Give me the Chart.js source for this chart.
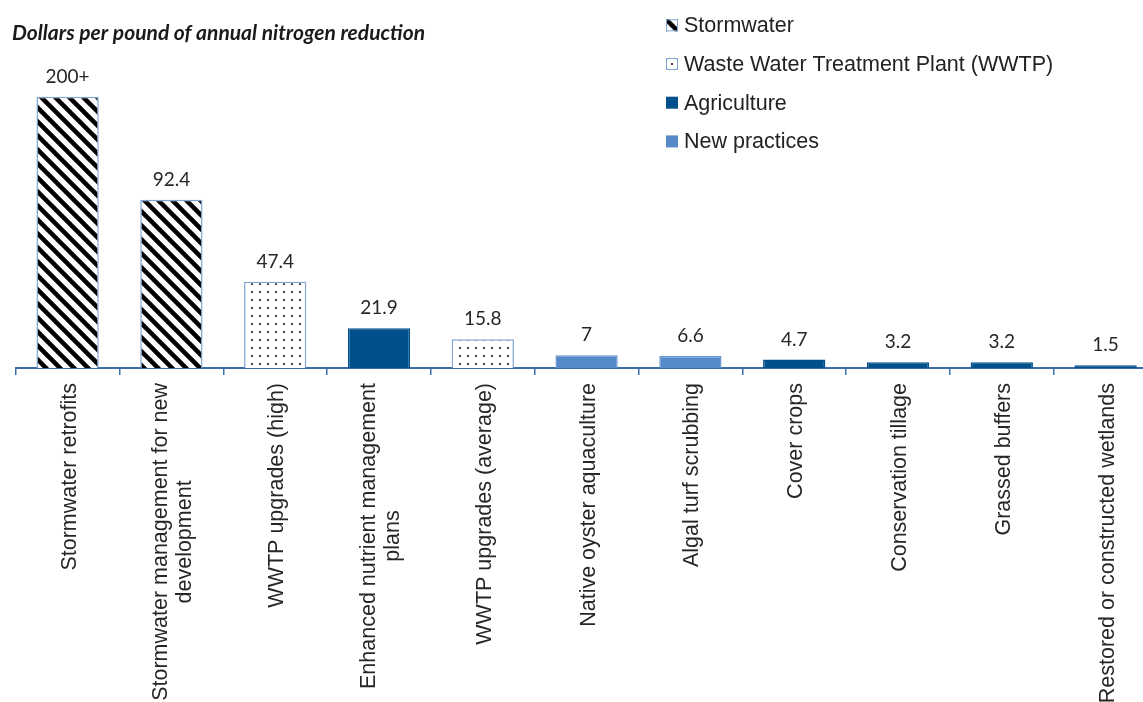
<!DOCTYPE html>
<html>
<head>
<meta charset="utf-8">
<script src="https://cdn.jsdelivr.net/npm/chart.js@4.4.0/dist/chart.umd.min.js"></script>
<style>
html, body { margin: 0; padding: 0; overflow: hidden; background: #fff; }
#wrap { width: 1160px; height: 702px; }
</style>
</head>
<body>
<div id="wrap"><canvas id="chart" width="1160" height="702"></canvas></div>
<script>
// DATA
const titleText = 'Dollars per pound of annual nitrogen reduction';
const categories = [
  'Stormwater retrofits',
  ['Stormwater management for new', 'development'],
  'WWTP upgrades (high)',
  ['Enhanced nutrient management', 'plans'],
  'WWTP upgrades (average)',
  'Native oyster aquaculture',
  'Algal turf scrubbing',
  'Cover crops',
  'Conservation tillage',
  'Grassed buffers',
  'Restored or constructed wetlands'
];
// first bar is cut off in the original ("200+"), so it is drawn at the height shown there
const barValues   = [149, 92.4, 47.4, 21.9, 15.8, 7, 6.6, 4.7, 3.2, 3.2, 1.5];
const valueLabels = ['200+', '92.4', '47.4', '21.9', '15.8', '7', '6.6', '4.7', '3.2', '3.2', '1.5'];
const barGroups   = [0, 0, 1, 2, 1, 3, 3, 2, 2, 2, 2];
const groupNames  = ['Stormwater', 'Waste Water Treatment Plant (WWTP)', 'Agriculture', 'New practices'];
const yMax = 200;

const ctx = document.getElementById('chart').getContext('2d');

// fill patterns
function makeHatch() {
  const c = document.createElement('canvas');
  c.width = 14; c.height = 14;
  const g = c.getContext('2d');
  g.fillStyle = '#fff';
  g.fillRect(0, 0, 14, 14);
  g.strokeStyle = '#000';
  g.lineWidth = 4.5;
  for (const k of [-14, 0, 14]) {
    g.beginPath();
    g.moveTo(k - 2, -2);
    g.lineTo(k + 16, 16);
    g.stroke();
  }
  return ctx.createPattern(c, 'repeat');
}

function makeDots() {
  const c = document.createElement('canvas');
  c.width = 8; c.height = 8;
  const g = c.getContext('2d');
  g.fillStyle = '#fff';
  g.fillRect(0, 0, 8, 8);
  g.fillStyle = '#444';
  g.fillRect(3, 3, 2, 2);
  return ctx.createPattern(c, 'repeat');
}

const groupFills   = [makeHatch(), makeDots(), '#00508C', '#5689C7'];
const groupBorders = ['#7FA3D3', '#7FA3D3', '#00508C', '#6A97CF'];

const textPlugin = {
  id: 'texts',
  afterDraw(chart) {
    const c = chart.ctx;
    const xs = chart.scales.x;
    const ys = chart.scales.y;
    c.save();

    // title
    c.fillStyle = '#1a1a1a';
    c.font = 'italic bold 21px Lato';
    c.textAlign = 'left';
    c.textBaseline = 'middle';
    c.fillText(titleText, 12, 33);

    // value labels
    c.font = '19px Lato';
    c.fillStyle = '#262626';
    c.textAlign = 'center';
    barValues.forEach((v, i) => {
      c.fillText(valueLabels[i], xs.getPixelForValue(i), ys.getPixelForValue(v) - 20);
    });

    // category labels, rotated, multi-line centred
    c.font = '21.5px "Liberation Sans"';
    categories.forEach((lab, i) => {
      const lines = Array.isArray(lab) ? lab : [lab];
      const w = Math.max(...lines.map(l => c.measureText(l).width));
      c.save();
      c.translate(xs.getPixelForValue(i) + 2, xs.top + 15 + w / 2);
      c.rotate(-Math.PI / 2);
      c.textAlign = 'center';
      c.textBaseline = 'middle';
      lines.forEach((l, j) => c.fillText(l, 0, (j - (lines.length - 1) / 2) * 24));
      c.restore();
    });

    // legend
    c.textAlign = 'left';
    c.textBaseline = 'alphabetic';
    groupNames.forEach((name, k) => {
      const base = 32.3 + k * 38.7;
      const bx = 666, by = base - 13;
      c.save();
      c.translate(bx, by);
      if (k === 1) c.translate(2, 2);
      c.fillStyle = groupFills[k];
      if (k === 1) c.fillRect(-2, -2, 12, 12); else c.fillRect(0, 0, 12, 12);
      c.restore();
      if (k < 2) {
        c.strokeStyle = groupBorders[k];
        c.lineWidth = 1;
        c.strokeRect(bx + 0.5, by + 0.5, 11, 11);
      }
      c.fillStyle = '#222';
      c.fillText(name, 684, base);
    });

    c.restore();
  }
};

new Chart(ctx, {
  type: 'bar',
  data: {
    labels: categories,
    datasets: [{
      data: barValues,
      backgroundColor: barGroups.map(g => groupFills[g]),
      borderColor: barGroups.map(g => groupBorders[g]),
      borderWidth: 1.5,
      barPercentage: 0.6,
      categoryPercentage: 1
    }]
  },
  options: {
    responsive: false,
    animation: false,
    layout: { padding: { left: 15.7, right: 2.5, top: 4, bottom: 0 } },
    plugins: { legend: { display: false }, tooltip: { enabled: false } },
    scales: {
      x: {
        grid: { display: true, drawOnChartArea: false, drawTicks: true, tickLength: 7, color: '#3A6EA8', lineWidth: 1.5, offset: true },
        border: { color: '#3A6EA8', width: 2 },
        ticks: { display: false },
        afterFit: s => { s.height = 334; }
      },
      y: { display: false, min: 0, max: yMax }
    }
  },
  plugins: [textPlugin]
});
</script>
</body>
</html>
